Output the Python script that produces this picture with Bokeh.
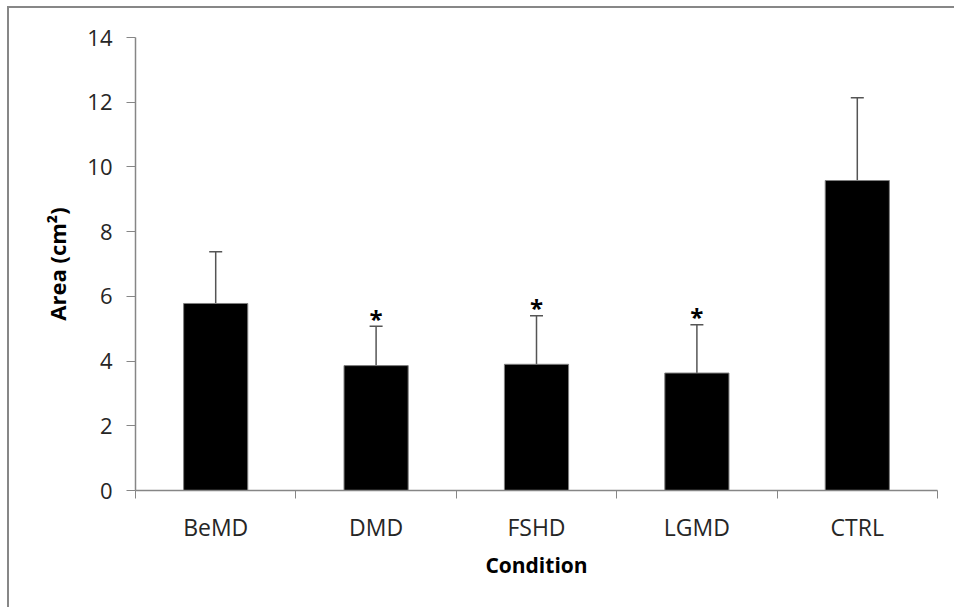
from bokeh.plotting import figure
from bokeh.models import Range1d, FixedTicker, Whisker, TeeHead, ColumnDataSource
from bokeh.core.properties import value
from bokeh.embed import file_html
from bokeh.resources import INLINE

categories = ["BeMD", "DMD", "FSHD", "LGMD", "CTRL"]
means = [5.78, 3.86, 3.90, 3.63, 9.58]
sds = [1.60, 1.22, 1.50, 1.49, 2.56]
significant = [False, True, True, True, False]
y_ticks = [0, 2, 4, 6, 8, 10, 12, 14]

centers = [i + 0.5 for i in range(len(categories))]
uppers = [m + s for m, s in zip(means, sds)]

src = ColumnDataSource(dict(x=centers, top=means, upper=uppers, cat=categories))
star_src = ColumnDataSource(dict(
    x=[c for c, s in zip(centers, significant) if s],
    y=[u for u, s in zip(uppers, significant) if s],
    t=["*" for s in significant if s],
))

FONT = "Open Sans"
AXIS_GRAY = "#868686"

p = figure(width=947, height=601, output_backend="svg", toolbar_location=None,
           x_range=Range1d(0, len(categories)), y_range=Range1d(0, 14),
           min_border_left=126, min_border_top=29, min_border_right=19, min_border_bottom=119)
p.margin = (6, 0, 0, 7)
p.styles = {"border-top": "2px solid #878787", "border-left": "2px solid #878787"}
p.outline_line_color = None
p.xgrid.visible = False
p.ygrid.visible = False
p.background_fill_color = "white"
p.border_fill_color = "white"

p.vbar(x="x", top="top", bottom=0, width=0.4, source=src,
       fill_color="black", line_color="#7f7f7f", line_width=1)

wh = Whisker(source=src, base="x", upper="upper", lower="top",
             line_color="#555555", line_width=1.5,
             upper_head=TeeHead(size=13, line_color="#555555", line_width=1.5),
             lower_head=None)
p.add_layout(wh)

p.text(x="x", y="y", text="t", source=star_src, text_align="center",
       text_baseline="alphabetic", y_offset=-8, text_font=value(FONT),
       text_font_size="24px", text_font_style="bold", text_color="black")

# x axis
xa = p.xaxis[0]
xa.ticker = FixedTicker(ticks=centers, minor_ticks=list(range(len(categories) + 1)))
xa.major_label_overrides = {c: name for c, name in zip(centers, categories)}
xa.major_tick_out = 0
xa.major_tick_in = 0
xa.minor_tick_out = 8
xa.minor_tick_in = 0
xa.minor_tick_line_color = AXIS_GRAY
xa.axis_line_color = AXIS_GRAY
xa.axis_line_width = 1.5
xa.major_label_standoff = 12
xa.major_label_text_font = FONT
xa.major_label_text_font_size = "23px"
xa.major_label_text_color = "#262626"
xa.axis_label = "Condition"
xa.axis_label_text_font = FONT
xa.axis_label_text_font_size = "21px"
xa.axis_label_text_font_style = "bold"
xa.axis_label_text_color = "black"
xa.axis_label_standoff = 5

# y axis
ya = p.yaxis[0]
ya.ticker = FixedTicker(ticks=y_ticks)
ya.minor_tick_line_color = None
ya.major_tick_out = 9
ya.major_tick_in = 0
ya.major_tick_line_color = AXIS_GRAY
ya.axis_line_color = AXIS_GRAY
ya.axis_line_width = 1.5
ya.major_label_standoff = 14
ya.major_label_text_font = FONT
ya.major_label_text_font_size = "22px"
ya.major_label_text_color = "#262626"
ya.axis_label = "Area (cm²)"
ya.axis_label_text_font = FONT
ya.axis_label_text_font_size = "22px"
ya.axis_label_text_font_style = "bold"
ya.axis_label_text_color = "black"
ya.axis_label_standoff = 12

open("out.html", "w").write(file_html(p, INLINE))
